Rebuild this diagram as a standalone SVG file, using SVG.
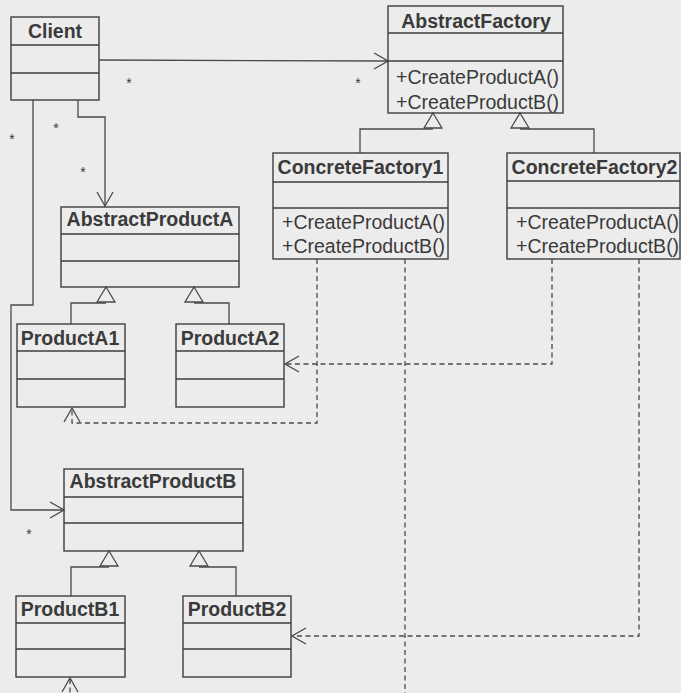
<svg xmlns="http://www.w3.org/2000/svg" width="681" height="693" viewBox="0 0 681 693">
  <style>
    .box { fill: none; stroke: #3e3e3e; stroke-width: 1.4; }
    .div { stroke: #3e3e3e; stroke-width: 1.4; }
    .title { font-family: "Liberation Sans", Arial, sans-serif; font-weight: bold; font-size: 19.5px; fill: #3a3a3a; text-anchor: middle; }
    .op { font-family: "Liberation Sans", Arial, sans-serif; font-size: 19.5px; fill: #3a3a3a; }
    .mult { font-family: "Liberation Sans", Arial, sans-serif; font-size: 14px; fill: #3a3a3a; text-anchor: middle; }
    .assoc { fill: none; stroke: #4a4a4a; stroke-width: 1.3; }
    .gen { fill: none; stroke: #4a4a4a; stroke-width: 1.3; }
    .dep { fill: none; stroke: #4a4a4a; stroke-width: 1.3; stroke-dasharray: 5 3.5; }
    .tri { fill: #ececec; stroke: #4a4a4a; stroke-width: 1.3; }
  </style>
  <defs>
    <marker id="open" viewBox="0 0 16 18" refX="15" refY="9" markerWidth="16" markerHeight="18" markerUnits="userSpaceOnUse" orient="auto">
      <path d="M1,1 L15,9 L1,17" fill="none" stroke="#4a4a4a" stroke-width="1.3"/>
    </marker>
  </defs>

  <rect x="0" y="0" width="681" height="693" fill="#ececec"/>

  <!-- connectors -->
  <g id="connectors">
    <!-- associations from Client -->
    <path class="assoc" d="M99,60 L388,61" marker-end="url(#open)"/>
    <path class="assoc" d="M78,100 L78,117 L105,117 L105,206" marker-end="url(#open)"/>
    <path class="assoc" d="M33,100 L33,305 L11,305 L11,510 L64,510" marker-end="url(#open)"/>

    <!-- generalizations -->
    <path class="gen" d="M360,153 L360,129 L433,129"/>
    <path class="gen" d="M594,153 L594,129 L520,129"/>
    <path class="tri" d="M433,113 L442,128 L424,128 Z"/>
    <path class="tri" d="M520,113 L529,128 L511,128 Z"/>

    <path class="gen" d="M71,324 L71,303 L106,303"/>
    <path class="gen" d="M229,324 L229,303 L194,303"/>
    <path class="tri" d="M106,287 L115,302 L97,302 Z"/>
    <path class="tri" d="M194,287 L203,302 L185,302 Z"/>

    <path class="gen" d="M71,596 L71,567 L109,567"/>
    <path class="gen" d="M236,596 L236,567 L199,567"/>
    <path class="tri" d="M109,551 L118,566 L100,566 Z"/>
    <path class="tri" d="M199,551 L208,566 L190,566 Z"/>

    <!-- dependencies from concrete factories -->
    <path class="dep" d="M317,259 L317,423 L72,423 L72,408" marker-end="url(#open)"/>
    <path class="dep" d="M405,259 L405,712 L70,712 L70,678" marker-end="url(#open)"/>
    <path class="dep" d="M552,259 L552,364 L285,364" marker-end="url(#open)"/>
    <path class="dep" d="M639,259 L639,636 L292,636" marker-end="url(#open)"/>

    <!-- multiplicities -->
    <text class="mult" x="129" y="88">*</text>
    <text class="mult" x="358" y="88">*</text>
    <text class="mult" x="12" y="144">*</text>
    <text class="mult" x="56" y="133">*</text>
    <text class="mult" x="83" y="177">*</text>
    <text class="mult" x="29" y="539">*</text>
  </g>

  <g id="client">
    <rect class="box" x="11" y="17" width="88" height="83"/>
    <line class="div" x1="11" y1="45" x2="99" y2="45"/>
    <line class="div" x1="11" y1="73" x2="99" y2="73"/>
    <text class="title" x="55" y="38">Client</text>
  </g>

  <g id="abstract-factory">
    <rect class="box" x="388" y="6" width="175" height="107"/>
    <line class="div" x1="388" y1="33" x2="563" y2="33"/>
    <line class="div" x1="388" y1="61" x2="563" y2="61"/>
    <text class="title" x="476" y="28">AbstractFactory</text>
    <text class="op" x="396" y="84">+CreateProductA()</text>
    <text class="op" x="396" y="109">+CreateProductB()</text>
  </g>

  <g id="concrete-factory-1">
    <rect class="box" x="273" y="153" width="175" height="106"/>
    <line class="div" x1="273" y1="182" x2="448" y2="182"/>
    <line class="div" x1="273" y1="208" x2="448" y2="208"/>
    <text class="title" x="360.5" y="174">ConcreteFactory1</text>
    <text class="op" x="282" y="229">+CreateProductA()</text>
    <text class="op" x="282" y="253">+CreateProductB()</text>
  </g>

  <g id="concrete-factory-2">
    <rect class="box" x="507" y="153" width="173" height="106"/>
    <line class="div" x1="507" y1="181" x2="680" y2="181"/>
    <line class="div" x1="507" y1="208" x2="680" y2="208"/>
    <text class="title" x="594.5" y="174">ConcreteFactory2</text>
    <text class="op" x="516" y="229">+CreateProductA()</text>
    <text class="op" x="516" y="253">+CreateProductB()</text>
  </g>

  <g id="abstract-product-a">
    <rect class="box" x="61" y="207" width="178" height="80"/>
    <line class="div" x1="61" y1="234" x2="239" y2="234"/>
    <line class="div" x1="61" y1="261" x2="239" y2="261"/>
    <text class="title" x="150" y="226">AbstractProductA</text>
  </g>

  <g id="product-a1">
    <rect class="box" x="17" y="324" width="108" height="83"/>
    <line class="div" x1="17" y1="351" x2="125" y2="351"/>
    <line class="div" x1="17" y1="379" x2="125" y2="379"/>
    <text class="title" x="70" y="345">ProductA1</text>
  </g>

  <g id="product-a2">
    <rect class="box" x="176" y="324" width="108" height="83"/>
    <line class="div" x1="176" y1="351" x2="284" y2="351"/>
    <line class="div" x1="176" y1="379" x2="284" y2="379"/>
    <text class="title" x="230" y="345">ProductA2</text>
  </g>

  <g id="abstract-product-b">
    <rect class="box" x="64" y="469" width="179" height="82"/>
    <line class="div" x1="64" y1="497" x2="243" y2="497"/>
    <line class="div" x1="64" y1="523" x2="243" y2="523"/>
    <text class="title" x="153" y="488">AbstractProductB</text>
  </g>

  <g id="product-b1">
    <rect class="box" x="16" y="596" width="109" height="81"/>
    <line class="div" x1="16" y1="623" x2="125" y2="623"/>
    <line class="div" x1="16" y1="649" x2="125" y2="649"/>
    <text class="title" x="70" y="616">ProductB1</text>
  </g>

  <g id="product-b2">
    <rect class="box" x="183" y="596" width="108" height="81"/>
    <line class="div" x1="183" y1="623" x2="291" y2="623"/>
    <line class="div" x1="183" y1="649" x2="291" y2="649"/>
    <text class="title" x="237" y="616">ProductB2</text>
  </g>
</svg>
